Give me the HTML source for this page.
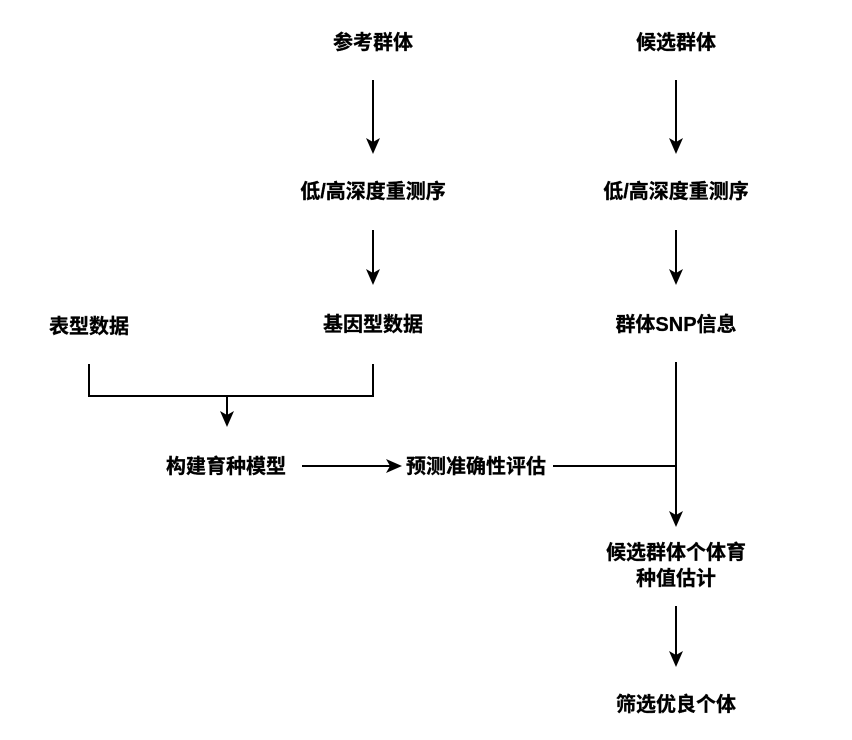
<!DOCTYPE html>
<html><head><meta charset="utf-8"><style>
html,body{margin:0;padding:0;background:#fff;}
svg{display:block;}
text{font-family:"Liberation Sans","Noto Sans CJK SC",sans-serif;font-weight:bold;font-size:20px;fill:#000;text-anchor:middle;dominant-baseline:central;stroke:#000;stroke-width:0.3px;}
</style></head><body>
<svg width="852" height="740" viewBox="0 0 852 740" xmlns="http://www.w3.org/2000/svg">
<g stroke="#000" stroke-width="2" fill="none">
<line x1="373" y1="80" x2="373" y2="145"/>
<line x1="676" y1="80" x2="676" y2="145"/>
<line x1="373" y1="230" x2="373" y2="276"/>
<line x1="676" y1="230" x2="676" y2="276"/>
<polyline points="89,364 89,396 373,396 373,364"/>
<line x1="227" y1="396" x2="227" y2="418"/>
<line x1="302" y1="466" x2="392" y2="466"/>
<line x1="553" y1="466" x2="676" y2="466"/>
<line x1="676" y1="362" x2="676" y2="518"/>
<line x1="676" y1="606" x2="676" y2="658"/>
</g>
<g fill="#000">
<path d="M366,138 L373,142 L380,138 L373,154 Z"/>
<path d="M669,138 L676,142 L683,138 L676,154 Z"/>
<path d="M366,269 L373,273 L380,269 L373,285 Z"/>
<path d="M669,269 L676,273 L683,269 L676,285 Z"/>
<path d="M220,411 L227,415 L234,411 L227,427 Z"/>
<path d="M669,511 L676,515 L683,511 L676,527 Z"/>
<path d="M669,651 L676,655 L683,651 L676,667 Z"/>
<path d="M386,459 L390,466 L386,473 L402,466 Z"/>
</g>
<text x="373" y="43">参考群体</text>
<text x="676" y="43">候选群体</text>
<text x="373" y="192">低/高深度重测序</text>
<text x="676" y="192">低/高深度重测序</text>
<text x="89" y="327">表型数据</text>
<text x="373" y="325">基因型数据</text>
<text x="676" y="325">群体SNP信息</text>
<text x="226" y="467">构建育种模型</text>
<text x="476" y="467">预测准确性评估</text>
<text x="676" y="553">候选群体个体育</text>
<text x="676" y="579">种值估计</text>
<text x="676" y="705">筛选优良个体</text>
</svg>
</body></html>
